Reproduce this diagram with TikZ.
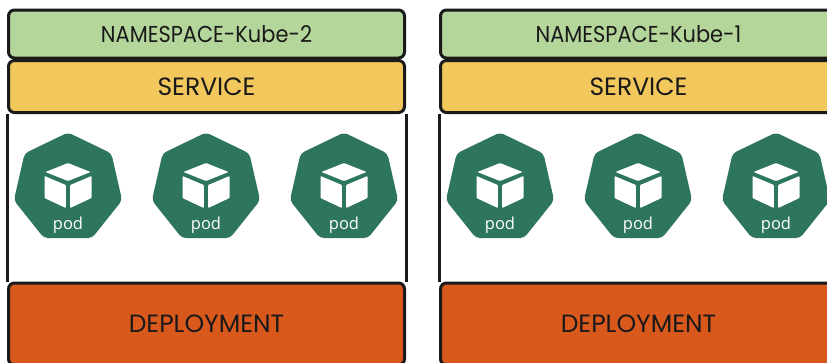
\documentclass[tikz,border=0pt]{standalone}
\usepackage{fontspec}
\setmainfont{Open Sans}
\newfontfamily\futfont{Poppins}
\newfontfamily\futnarrow[FakeStretch=0.91]{Poppins}
\usetikzlibrary{shapes.geometric}
\definecolor{nsgreen}{HTML}{B5D69B}
\definecolor{svcyellow}{HTML}{F2C75C}
\definecolor{deporange}{HTML}{D9591D}
\definecolor{podgreen}{HTML}{2E7560}
\definecolor{ink}{HTML}{1A1A1A}
\newcommand\mypod[2]{%
  \node[podshape] (#1) at (#2,188) {};
  \begin{scope}[shift={(#2,187)}]
    \fill[white, rounded corners=0.8pt] (0,-24) -- (-22.5,-15) -- (0,-6) -- (22.5,-15) -- cycle;
    \fill[white, rounded corners=0.8pt] (-23.5,-11) -- (-2.2,-2) -- (-2.2,21) -- (-23.5,11) -- cycle;
    \fill[white, rounded corners=0.8pt] (23.5,-11) -- (2.2,-2) -- (2.2,21) -- (23.5,11) -- cycle;
  \end{scope}
  \node[podtxt] (#1t) at (#2,225.5) {pod};
}
\begin{document}
\begin{tikzpicture}[x=1pt,y=-1pt,
  bar/.style={draw=ink, line width=3pt, rounded corners=6pt, minimum width=396pt,
    inner sep=0pt, font=\futfont\fontsize{25}{28}\selectfont, text=ink},
  hdr/.style={bar, font=\futnarrow\fontsize{23}{26}\selectfont},
  frame/.style={draw=ink, line width=3pt},
  podshape/.style={regular polygon, regular polygon sides=7, minimum size=111pt,
    inner sep=0pt, fill=podgreen, rounded corners=4pt},
  podtxt/.style={text=white, font=\fontsize{16.5}{19}\selectfont, inner sep=0pt}]
\useasboundingbox (0,0) rectangle (827,362);
\fill[white] (0,0) rectangle (827,362);
% left panel
\node[hdr, fill=nsgreen, minimum height=48pt] (ns2) at (206.5,34) {NAMESPACE-Kube-2};
\node[bar, fill=svcyellow, minimum height=52pt] (svc2) at (206.5,86.5) {SERVICE};
\node[bar, fill=deporange, minimum height=82pt] (dep2) at (206.5,324) {DEPLOYMENT};
\draw[frame] (svc2.south west) -- (dep2.north west);
\draw[frame] (svc2.south east) -- (dep2.north east);
\mypod{pa}{68}
\mypod{pb}{206}
\mypod{pc}{344}
% right panel
\node[hdr, fill=nsgreen, minimum height=48pt] (ns1) at (638.5,34) {NAMESPACE-Kube-1};
\node[bar, fill=svcyellow, minimum height=52pt] (svc1) at (638.5,86.5) {SERVICE};
\node[bar, fill=deporange, minimum height=82pt] (dep1) at (638.5,324) {DEPLOYMENT};
\draw[frame] (svc1.south west) -- (dep1.north west);
\draw[frame] (svc1.south east) -- (dep1.north east);
\mypod{pd}{500}
\mypod{pe}{638}
\mypod{pf}{776}
\end{tikzpicture}
\end{document}
